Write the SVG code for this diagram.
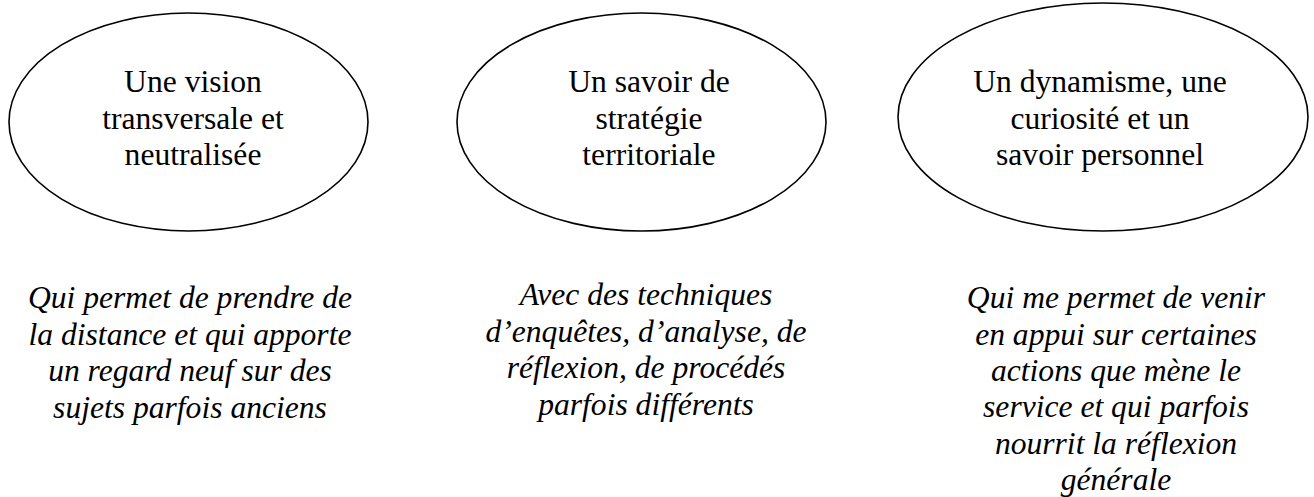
<svg xmlns="http://www.w3.org/2000/svg" width="1314" height="497" viewBox="0 0 1314 497">
<style>
.bg{fill:#ffffff}
.oval{fill:#ffffff;stroke:#000000;stroke-width:1.6}
.t{font-size:31.6px;fill:#000000;text-anchor:middle}
.i{font-style:italic}
</style>
<rect class="bg" x="0" y="0" width="1314" height="497"/>
<g font-family="'Liberation Serif', 'DejaVu Serif', serif">
<g id="node-vision">
<ellipse class="oval" cx="188.5" cy="122" rx="179.5" ry="109"/>
<text class="t" x="193" y="92">Une vision</text>
<text class="t" x="193" y="128.5">transversale et</text>
<text class="t" x="193" y="165">neutralisée</text>
</g>
<g id="node-savoir">
<ellipse class="oval" cx="641.5" cy="122" rx="184.5" ry="109"/>
<text class="t" x="649" y="92">Un savoir de</text>
<text class="t" x="649" y="128.5">stratégie</text>
<text class="t" x="649" y="165">territoriale</text>
</g>
<g id="node-dynamisme">
<ellipse class="oval" cx="1103" cy="117" rx="205" ry="114"/>
<text class="t" x="1100" y="92">Un dynamisme, une</text>
<text class="t" x="1100" y="128.5">curiosité et un</text>
<text class="t" x="1100" y="165">savoir personnel</text>
</g>
<g id="label-vision">
<text class="t i" x="190" y="308">Qui permet de prendre de</text>
<text class="t i" x="190" y="344.5">la distance et qui apporte</text>
<text class="t i" x="190" y="381">un regard neuf sur des</text>
<text class="t i" x="190" y="417.5">sujets parfois anciens</text>
</g>
<g id="label-savoir">
<text class="t i" x="646" y="305">Avec des techniques</text>
<text class="t i" x="646" y="341.5">d’enquêtes, d’analyse, de</text>
<text class="t i" x="646" y="378">réflexion, de procédés</text>
<text class="t i" x="646" y="414.5">parfois différents</text>
</g>
<g id="label-dynamisme">
<text class="t i" x="1116" y="308">Qui me permet de venir</text>
<text class="t i" x="1116" y="344.5">en appui sur certaines</text>
<text class="t i" x="1116" y="381">actions que mène le</text>
<text class="t i" x="1116" y="417">service et qui parfois</text>
<text class="t i" x="1116" y="453.5">nourrit la réflexion</text>
<text class="t i" x="1116" y="490">générale</text>
</g>
</g>
</svg>
